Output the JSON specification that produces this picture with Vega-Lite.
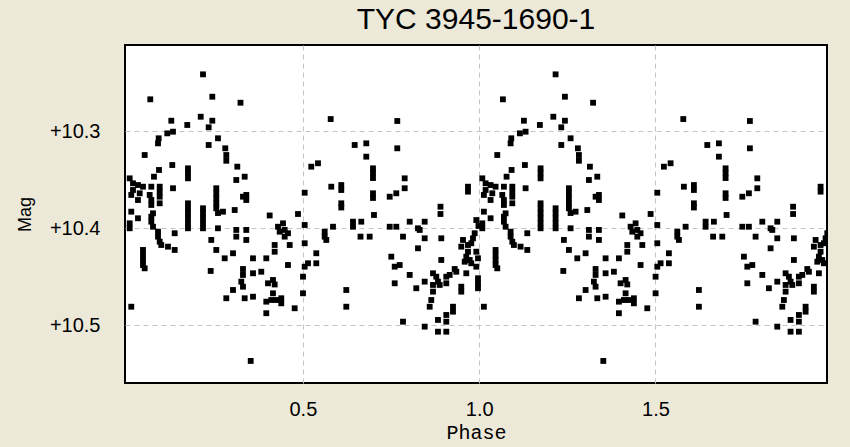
{
  "$schema": "https://vega.github.io/schema/vega-lite/v6.json",
  "autosize": "none",
  "width": 702,
  "height": 338,
  "padding": {"left": 125, "top": 45, "right": 23, "bottom": 64},
  "background": "#ECE9D8",
  "title": {"text": "TYC 3945-1690-1", "font": "Liberation Sans", "fontSize": 30, "fontWeight": "normal", "color": "#000000", "anchor": "middle", "offset": 10},
  "config": {
    "view": {"fill": "#ffffff", "stroke": "#000000", "strokeWidth": 2},
    "axis": {"labelColor": "#000000", "titleColor": "#000000"}
  },
  "data": {"values": [
{"phase":0.2167,"phase2":1.2167,"mag":10.2416},
{"phase":0.0672,"phase2":1.0672,"mag":10.2673},
{"phase":0.2431,"phase2":1.2431,"mag":10.2646},
{"phase":0.3230,"phase2":1.3230,"mag":10.2708},
{"phase":0.1268,"phase2":1.1268,"mag":10.2893},
{"phase":0.1721,"phase2":1.1721,"mag":10.2937},
{"phase":0.2102,"phase2":1.2102,"mag":10.2852},
{"phase":0.2431,"phase2":1.2431,"mag":10.2893},
{"phase":0.2328,"phase2":1.2328,"mag":10.2961},
{"phase":0.1154,"phase2":1.1154,"mag":10.3023},
{"phase":0.1316,"phase2":1.1316,"mag":10.3006},
{"phase":0.0910,"phase2":1.0910,"mag":10.3074},
{"phase":0.0891,"phase2":1.0891,"mag":10.3126},
{"phase":0.2592,"phase2":1.2592,"mag":10.3074},
{"phase":0.2328,"phase2":1.2328,"mag":10.3143},
{"phase":0.2799,"phase2":1.2799,"mag":10.3177},
{"phase":0.2828,"phase2":1.2828,"mag":10.3246},
{"phase":0.2828,"phase2":1.2828,"mag":10.3305},
{"phase":0.0513,"phase2":1.0513,"mag":10.3246},
{"phase":0.1296,"phase2":1.1296,"mag":10.3349},
{"phase":0.1741,"phase2":1.1741,"mag":10.3383},
{"phase":0.1741,"phase2":1.1741,"mag":10.3434},
{"phase":0.0919,"phase2":1.0919,"mag":10.3400},
{"phase":0.0777,"phase2":1.0777,"mag":10.3469},
{"phase":0.3140,"phase2":1.3140,"mag":10.3366},
{"phase":0.3111,"phase2":1.3111,"mag":10.3503},
{"phase":0.0088,"phase2":1.0088,"mag":10.3486},
{"phase":0.0182,"phase2":1.0182,"mag":10.3537},
{"phase":0.0323,"phase2":1.0323,"mag":10.3555},
{"phase":0.0465,"phase2":1.0465,"mag":10.3572},
{"phase":0.0701,"phase2":1.0701,"mag":10.3572},
{"phase":0.0939,"phase2":1.0939,"mag":10.3572},
{"phase":0.0939,"phase2":1.0939,"mag":10.3623},
{"phase":0.1316,"phase2":1.1316,"mag":10.3588},
{"phase":0.1741,"phase2":1.1741,"mag":10.3486},
{"phase":0.2544,"phase2":1.2544,"mag":10.3588},
{"phase":0.2544,"phase2":1.2544,"mag":10.3640},
{"phase":0.2544,"phase2":1.2544,"mag":10.3691},
{"phase":0.2544,"phase2":1.2544,"mag":10.3743},
{"phase":0.2544,"phase2":1.2544,"mag":10.3794},
{"phase":0.0182,"phase2":1.0182,"mag":10.3606},
{"phase":0.0133,"phase2":1.0133,"mag":10.3657},
{"phase":0.0372,"phase2":1.0372,"mag":10.3640},
{"phase":0.0323,"phase2":1.0323,"mag":10.3709},
{"phase":0.0655,"phase2":1.0655,"mag":10.3657},
{"phase":0.0701,"phase2":1.0701,"mag":10.3709},
{"phase":0.0701,"phase2":1.0701,"mag":10.3760},
{"phase":0.0939,"phase2":1.0939,"mag":10.3675},
{"phase":0.0939,"phase2":1.0939,"mag":10.3743},
{"phase":0.1741,"phase2":1.1741,"mag":10.3743},
{"phase":0.1741,"phase2":1.1741,"mag":10.3794},
{"phase":0.2167,"phase2":1.2167,"mag":10.3794},
{"phase":0.3066,"phase2":1.3066,"mag":10.3812},
{"phase":0.0133,"phase2":1.0133,"mag":10.3829},
{"phase":0.0749,"phase2":1.0749,"mag":10.3846},
{"phase":0.3301,"phase2":1.3301,"mag":10.3675},
{"phase":0.0323,"phase2":1.0323,"mag":10.3897},
{"phase":0.0088,"phase2":1.0088,"mag":10.3949},
{"phase":0.0088,"phase2":1.0088,"mag":10.4000},
{"phase":0.0701,"phase2":1.0701,"mag":10.3881},
{"phase":0.0701,"phase2":1.0701,"mag":10.3932},
{"phase":0.0749,"phase2":1.0749,"mag":10.3984},
{"phase":0.0891,"phase2":1.0891,"mag":10.4035},
{"phase":0.0891,"phase2":1.0891,"mag":10.4086},
{"phase":0.0939,"phase2":1.0939,"mag":10.4138},
{"phase":0.0984,"phase2":1.0984,"mag":10.4172},
{"phase":0.1174,"phase2":1.1174,"mag":10.4189},
{"phase":0.1364,"phase2":1.1364,"mag":10.4223},
{"phase":0.1364,"phase2":1.1364,"mag":10.4051},
{"phase":0.0465,"phase2":1.0465,"mag":10.4223},
{"phase":0.0465,"phase2":1.0465,"mag":10.4275},
{"phase":0.0465,"phase2":1.0465,"mag":10.4326},
{"phase":0.0465,"phase2":1.0465,"mag":10.4378},
{"phase":0.0513,"phase2":1.0513,"mag":10.4412},
{"phase":0.1741,"phase2":1.1741,"mag":10.3846},
{"phase":0.1741,"phase2":1.1741,"mag":10.3897},
{"phase":0.1741,"phase2":1.1741,"mag":10.3949},
{"phase":0.1741,"phase2":1.1741,"mag":10.4000},
{"phase":0.2167,"phase2":1.2167,"mag":10.3846},
{"phase":0.2167,"phase2":1.2167,"mag":10.3897},
{"phase":0.2167,"phase2":1.2167,"mag":10.3949},
{"phase":0.2167,"phase2":1.2167,"mag":10.4000},
{"phase":0.2592,"phase2":1.2592,"mag":10.3843},
{"phase":0.2734,"phase2":1.2734,"mag":10.3829},
{"phase":0.2592,"phase2":1.2592,"mag":10.4000},
{"phase":0.3111,"phase2":1.3111,"mag":10.4017},
{"phase":0.3111,"phase2":1.3111,"mag":10.4086},
{"phase":0.2402,"phase2":1.2402,"mag":10.4120},
{"phase":0.2544,"phase2":1.2544,"mag":10.4223},
{"phase":0.2782,"phase2":1.2782,"mag":10.4309},
{"phase":0.3018,"phase2":1.3018,"mag":10.4257},
{"phase":0.2385,"phase2":1.2385,"mag":10.4439},
{"phase":0.3301,"phase2":1.3301,"mag":10.4419},
{"phase":0.3253,"phase2":1.3253,"mag":10.4549},
{"phase":0.3018,"phase2":1.3018,"mag":10.4635},
{"phase":0.2828,"phase2":1.2828,"mag":10.4720},
{"phase":0.0133,"phase2":1.0133,"mag":10.4807},
{"phase":0.5788,"phase2":1.5788,"mag":10.2876},
{"phase":0.6469,"phase2":1.6469,"mag":10.3143},
{"phase":0.3349,"phase2":1.3349,"mag":10.3469},
{"phase":0.3395,"phase2":1.3395,"mag":10.3657},
{"phase":0.3395,"phase2":1.3395,"mag":10.3709},
{"phase":0.5238,"phase2":1.5238,"mag":10.3366},
{"phase":0.5428,"phase2":1.5428,"mag":10.3331},
{"phase":0.5051,"phase2":1.5051,"mag":10.3634},
{"phase":0.5805,"phase2":1.5805,"mag":10.3572},
{"phase":0.6089,"phase2":1.6089,"mag":10.3555},
{"phase":0.6089,"phase2":1.6089,"mag":10.3606},
{"phase":0.6089,"phase2":1.6089,"mag":10.3743},
{"phase":0.6089,"phase2":1.6089,"mag":10.3786},
{"phase":0.4861,"phase2":1.4861,"mag":10.3853},
{"phase":0.4058,"phase2":1.4058,"mag":10.3868},
{"phase":0.4294,"phase2":1.4294,"mag":10.3984},
{"phase":0.4436,"phase2":1.4436,"mag":10.3949},
{"phase":0.4484,"phase2":1.4484,"mag":10.4017},
{"phase":0.4342,"phase2":1.4342,"mag":10.4035},
{"phase":0.4577,"phase2":1.4577,"mag":10.4051},
{"phase":0.4484,"phase2":1.4484,"mag":10.4086},
{"phase":0.5051,"phase2":1.5051,"mag":10.3966},
{"phase":0.5854,"phase2":1.5854,"mag":10.3984},
{"phase":0.5618,"phase2":1.5618,"mag":10.4035},
{"phase":0.5618,"phase2":1.5618,"mag":10.4086},
{"phase":0.5664,"phase2":1.5664,"mag":10.4120},
{"phase":0.6421,"phase2":1.6421,"mag":10.3932},
{"phase":0.6421,"phase2":1.6421,"mag":10.3984},
{"phase":0.6634,"phase2":1.6634,"mag":10.4086},
{"phase":0.3395,"phase2":1.3395,"mag":10.4017},
{"phase":0.3395,"phase2":1.3395,"mag":10.4120},
{"phase":0.5051,"phase2":1.5051,"mag":10.4154},
{"phase":0.4626,"phase2":1.4626,"mag":10.4172},
{"phase":0.4200,"phase2":1.4200,"mag":10.4172},
{"phase":0.4200,"phase2":1.4200,"mag":10.4241},
{"phase":0.3585,"phase2":1.3585,"mag":10.4309},
{"phase":0.3962,"phase2":1.3962,"mag":10.4309},
{"phase":0.5380,"phase2":1.5380,"mag":10.4257},
{"phase":0.5380,"phase2":1.5380,"mag":10.4360},
{"phase":0.5145,"phase2":1.5145,"mag":10.4360},
{"phase":0.5051,"phase2":1.5051,"mag":10.4395},
{"phase":0.4577,"phase2":1.4577,"mag":10.4378},
{"phase":0.3301,"phase2":1.3301,"mag":10.4480},
{"phase":0.3301,"phase2":1.3301,"mag":10.4601},
{"phase":0.3585,"phase2":1.3585,"mag":10.4463},
{"phase":0.3820,"phase2":1.3820,"mag":10.4447},
{"phase":0.4010,"phase2":1.4010,"mag":10.4566},
{"phase":0.4152,"phase2":1.4152,"mag":10.4532},
{"phase":0.4200,"phase2":1.4200,"mag":10.4578},
{"phase":0.5003,"phase2":1.5003,"mag":10.4498},
{"phase":0.5003,"phase2":1.5003,"mag":10.4669},
{"phase":0.3349,"phase2":1.3349,"mag":10.4720},
{"phase":0.3585,"phase2":1.3585,"mag":10.4704},
{"phase":0.4152,"phase2":1.4152,"mag":10.4669},
{"phase":0.4104,"phase2":1.4104,"mag":10.4738},
{"phase":0.3962,"phase2":1.3962,"mag":10.4755},
{"phase":0.4246,"phase2":1.4246,"mag":10.4738},
{"phase":0.4387,"phase2":1.4387,"mag":10.4720},
{"phase":0.4387,"phase2":1.4387,"mag":10.4772},
{"phase":0.4767,"phase2":1.4767,"mag":10.4823},
{"phase":0.3962,"phase2":1.3962,"mag":10.4874},
{"phase":0.6231,"phase2":1.6231,"mag":10.4635},
{"phase":0.6231,"phase2":1.6231,"mag":10.4807},
{"phase":0.3520,"phase2":1.3520,"mag":10.5365},
{"phase":0.7677,"phase2":1.7677,"mag":10.2896},
{"phase":0.6798,"phase2":1.6798,"mag":10.3126},
{"phase":0.7677,"phase2":1.7677,"mag":10.3177},
{"phase":0.6798,"phase2":1.6798,"mag":10.3263},
{"phase":0.6988,"phase2":1.6988,"mag":10.3383},
{"phase":0.6988,"phase2":1.6988,"mag":10.3434},
{"phase":0.6988,"phase2":1.6988,"mag":10.3483},
{"phase":0.7887,"phase2":1.7887,"mag":10.3486},
{"phase":0.7887,"phase2":1.7887,"mag":10.3588},
{"phase":0.7649,"phase2":1.7649,"mag":10.3640},
{"phase":0.7462,"phase2":1.7462,"mag":10.3675},
{"phase":0.6988,"phase2":1.6988,"mag":10.3640},
{"phase":0.6988,"phase2":1.6988,"mag":10.3688},
{"phase":0.9682,"phase2":1.9682,"mag":10.3572},
{"phase":0.9682,"phase2":1.9682,"mag":10.3623},
{"phase":0.8902,"phase2":1.8902,"mag":10.3778},
{"phase":0.8902,"phase2":1.8902,"mag":10.3853},
{"phase":0.7016,"phase2":1.7016,"mag":10.3863},
{"phase":0.6656,"phase2":1.6656,"mag":10.3932},
{"phase":0.6894,"phase2":1.6894,"mag":10.4086},
{"phase":0.7462,"phase2":1.7462,"mag":10.3984},
{"phase":0.7649,"phase2":1.7649,"mag":10.3984},
{"phase":0.8029,"phase2":1.8029,"mag":10.3932},
{"phase":0.8264,"phase2":1.8264,"mag":10.4000},
{"phase":0.8454,"phase2":1.8454,"mag":10.3932},
{"phase":0.8313,"phase2":1.8313,"mag":10.4017},
{"phase":0.7839,"phase2":1.7839,"mag":10.4086},
{"phase":0.8454,"phase2":1.8454,"mag":10.4103},
{"phase":0.8264,"phase2":1.8264,"mag":10.4206},
{"phase":0.8925,"phase2":1.8925,"mag":10.4103},
{"phase":0.8925,"phase2":1.8925,"mag":10.4326},
{"phase":0.7507,"phase2":1.7507,"mag":10.4292},
{"phase":0.7604,"phase2":1.7604,"mag":10.4395},
{"phase":0.7745,"phase2":1.7745,"mag":10.4378},
{"phase":0.7604,"phase2":1.7604,"mag":10.4566},
{"phase":0.8029,"phase2":1.8029,"mag":10.4480},
{"phase":0.8216,"phase2":1.8216,"mag":10.4617},
{"phase":0.8454,"phase2":1.8454,"mag":10.4549},
{"phase":0.8690,"phase2":1.8690,"mag":10.4463},
{"phase":0.8783,"phase2":1.8783,"mag":10.4498},
{"phase":0.8831,"phase2":1.8831,"mag":10.4549},
{"phase":0.8690,"phase2":1.8690,"mag":10.4583},
{"phase":0.8880,"phase2":1.8880,"mag":10.4583},
{"phase":0.9067,"phase2":1.9067,"mag":10.4498},
{"phase":0.9067,"phase2":1.9067,"mag":10.4566},
{"phase":0.9305,"phase2":1.9305,"mag":10.4419},
{"phase":0.8690,"phase2":1.8690,"mag":10.4652},
{"phase":0.8641,"phase2":1.8641,"mag":10.4738},
{"phase":0.8596,"phase2":1.8596,"mag":10.4807},
{"phase":0.9492,"phase2":1.9492,"mag":10.4601},
{"phase":0.9492,"phase2":1.9492,"mag":10.4652},
{"phase":0.9257,"phase2":1.9257,"mag":10.4807},
{"phase":0.9257,"phase2":1.9257,"mag":10.4858},
{"phase":0.9067,"phase2":1.9067,"mag":10.4892},
{"phase":0.8831,"phase2":1.8831,"mag":10.4943},
{"phase":0.9067,"phase2":1.9067,"mag":10.4961},
{"phase":0.8831,"phase2":1.8831,"mag":10.5064},
{"phase":0.9067,"phase2":1.9067,"mag":10.5064},
{"phase":0.8454,"phase2":1.8454,"mag":10.5012},
{"phase":0.7839,"phase2":1.7839,"mag":10.4961},
{"phase":0.9918,"phase2":1.9918,"mag":10.3915},
{"phase":0.9980,"phase2":1.9980,"mag":10.3976},
{"phase":0.9872,"phase2":1.9872,"mag":10.4051},
{"phase":0.9824,"phase2":1.9824,"mag":10.4103},
{"phase":0.9776,"phase2":1.9776,"mag":10.4154},
{"phase":0.9541,"phase2":1.9541,"mag":10.4120},
{"phase":0.9492,"phase2":1.9492,"mag":10.4189},
{"phase":0.9682,"phase2":1.9682,"mag":10.4241},
{"phase":0.9634,"phase2":1.9634,"mag":10.4292},
{"phase":0.9589,"phase2":1.9589,"mag":10.4344},
{"phase":0.9918,"phase2":1.9918,"mag":10.4241},
{"phase":0.9966,"phase2":1.9966,"mag":10.4309},
{"phase":0.9918,"phase2":1.9918,"mag":10.4395},
{"phase":0.9731,"phase2":1.9731,"mag":10.4326},
{"phase":0.9776,"phase2":1.9776,"mag":10.4360},
{"phase":0.9351,"phase2":1.9351,"mag":10.4447},
{"phase":0.9163,"phase2":1.9163,"mag":10.4480},
{"phase":0.9634,"phase2":1.9634,"mag":10.4463},
{"phase":0.9966,"phase2":1.9966,"mag":10.4514},
{"phase":0.9966,"phase2":1.9966,"mag":10.4566},
{"phase":0.9966,"phase2":1.9966,"mag":10.4617},
{"phase":0.9682,"phase2":1.9682,"mag":10.4172}
  ]},
  "transform": [{"fold": ["phase", "phase2"], "as": ["cycle", "x"]}],
  "mark": {"type": "point", "shape": "square", "filled": true, "size": 34, "color": "#000000", "opacity": 1, "clip": true},
  "encoding": {
    "x": {
      "field": "x", "type": "quantitative",
      "scale": {"domain": [-0.0045, 1.9864], "nice": false, "zero": false},
      "axis": {
        "title": "Phase", "values": [0.5, 1.0, 1.5], "format": ".1f",
        "grid": true, "gridColor": "#c4c4c4", "gridDash": [5, 4], "gridWidth": 1,
        "ticks": false, "domain": false,
        "labelFont": "Liberation Sans", "labelFontSize": 20, "labelPadding": 16,
        "titleFont": "Liberation Mono", "titleFontSize": 20, "titleFontWeight": "normal", "titlePadding": 3
      }
    },
    "y": {
      "field": "mag", "type": "quantitative",
      "scale": {"domain": [10.2114, 10.5592], "reverse": true, "nice": false, "zero": false},
      "axis": {
        "title": "Mag", "values": [10.3, 10.4, 10.5], "format": "+.1f",
        "grid": true, "gridColor": "#c4c4c4", "gridDash": [5, 4], "gridWidth": 1,
        "ticks": false, "domain": false,
        "labelFont": "Liberation Sans", "labelFontSize": 20, "labelPadding": 25,
        "titleFont": "Liberation Sans", "titleFontSize": 18, "titleFontWeight": "normal", "titlePadding": 15
      }
    }
  }
}
